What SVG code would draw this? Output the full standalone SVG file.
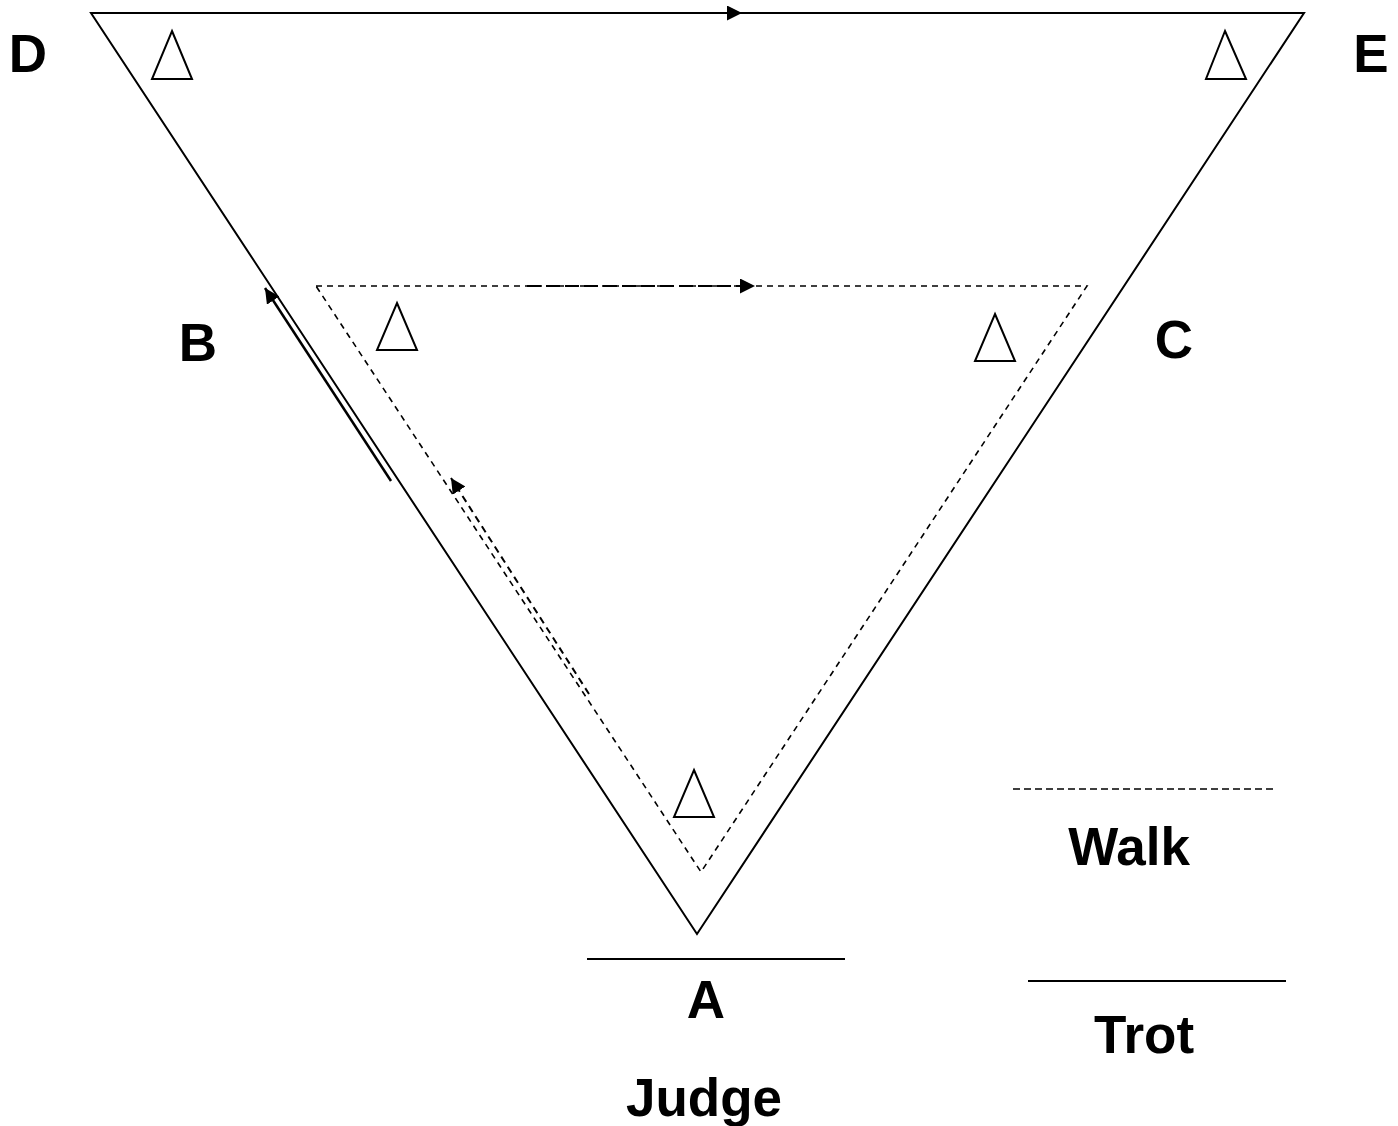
<svg xmlns="http://www.w3.org/2000/svg" width="1398" height="1126" viewBox="0 0 1398 1126">
<defs>
<marker id="ah" viewBox="0 0 10 10" refX="10" refY="5" markerWidth="15" markerHeight="15" markerUnits="userSpaceOnUse" orient="auto">
<path d="M0,0 L10,5 L0,10 Z" fill="#000"/>
</marker>
</defs>
<style>
.solid{fill:none;stroke:#000;stroke-width:2}
.dash{fill:none;stroke:#000;stroke-width:1.6;stroke-dasharray:6 5}
.cone{fill:#fff;stroke:#000;stroke-width:2;stroke-linejoin:miter}
.lbl{font-family:"Liberation Sans",Arial,sans-serif;font-weight:bold;font-size:53px;fill:#000;text-anchor:middle}
</style>
<rect width="1398" height="1126" fill="#fff"/>
<g id="outer-track">
<polygon class="solid" points="91,13 1304,13 697,934"/>
</g>
<g id="inner-track">
<polygon class="dash" points="316,286 1087,286 701,872"/>
</g>
<g id="cones">
<polygon id="cone-d" class="cone" points="172,31 192,79 152,79"/>
<polygon id="cone-e" class="cone" points="1225,31 1246,79 1206,79"/>
<polygon id="cone-b" class="cone" points="397,303 417,350 377,350"/>
<polygon id="cone-c" class="cone" points="995,314 1015,361 975,361"/>
<polygon id="cone-a" class="cone" points="694,770 714,817 674,817"/>
</g>
<g id="connectors">
<line x1="518" y1="13" x2="742" y2="13" stroke="#000" stroke-width="2" marker-end="url(#ah)"/>
<line x1="391" y1="481" x2="265" y2="288" stroke="#000" stroke-width="2.5" marker-end="url(#ah)"/>
<line x1="527" y1="286" x2="755" y2="286" stroke="#000" stroke-width="2" stroke-dasharray="14 5" marker-end="url(#ah)"/>
<line x1="589" y1="694" x2="451" y2="478" stroke="#000" stroke-width="2" stroke-dasharray="7 5" marker-end="url(#ah)"/>
</g>
<g id="judge-line">
<line class="solid" x1="587" y1="959" x2="845" y2="959"/>
</g>
<g id="legend">
<line x1="1013" y1="789" x2="1273" y2="789" stroke="#000" stroke-width="1.6" stroke-dasharray="7 4"/>
<line class="solid" x1="1028" y1="981" x2="1286" y2="981"/>
<text class="lbl" x="1129" y="865">Walk</text>
<text class="lbl" x="1144" y="1053">Trot</text>
</g>
<g id="labels">
<text id="lbl-d" class="lbl" x="28" y="72">D</text>
<text id="lbl-e" class="lbl" x="1371" y="72">E</text>
<text id="lbl-b" class="lbl" x="198" y="361">B</text>
<text id="lbl-c" class="lbl" x="1174" y="358">C</text>
<text id="lbl-a" class="lbl" x="706" y="1018">A</text>
<text id="lbl-judge" class="lbl" x="704" y="1116">Judge</text>
</g>
</svg>
